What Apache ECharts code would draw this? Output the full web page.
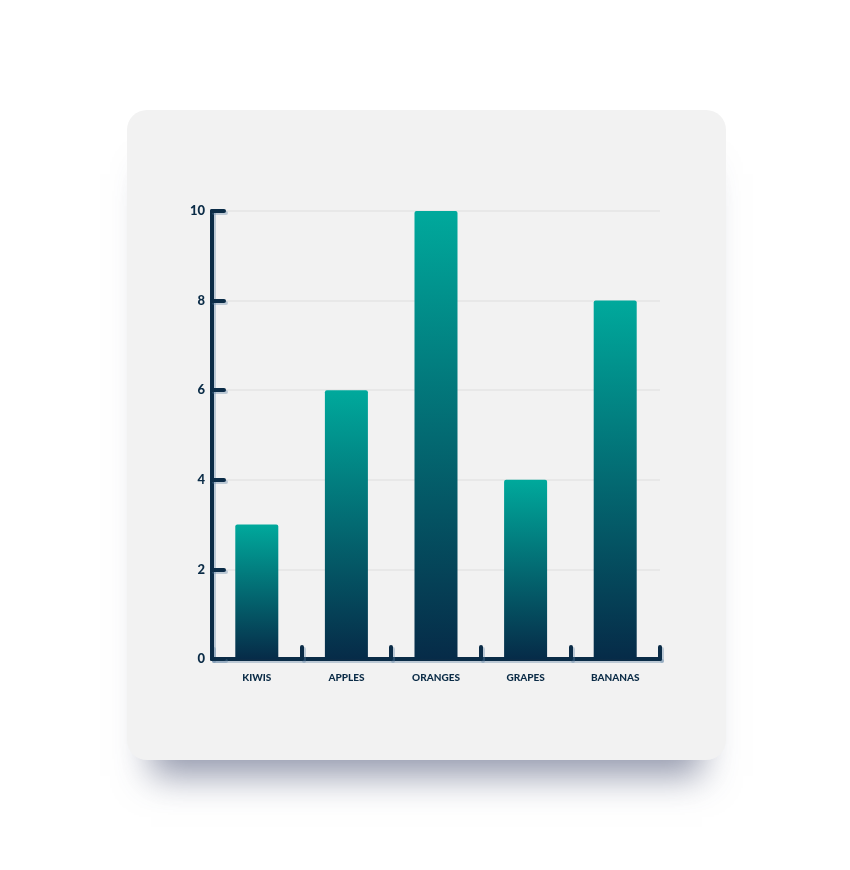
<!DOCTYPE html>
<html>
<head>
<meta charset="utf-8">
<style>
  html, body { margin: 0; padding: 0; background: #ffffff; }
  #card {
    position: absolute; left: 127px; top: 110px; width: 599px; height: 650px;
    background: #f2f2f2; border-radius: 20px;
    box-shadow: 0 40px 34px -24px rgba(60, 70, 105, 0.55);
  }
  #main { position: absolute; left: 0; top: 0; width: 850px; height: 870px; }
</style>
<script src="https://cdn.jsdelivr.net/npm/echarts@6/dist/echarts.min.js"></script>
</head>
<body>
<div id="card"></div>
<div id="main"></div>
<script>
  // fruit counts
  var fruits = ['KIWIS', 'APPLES', 'ORANGES', 'GRAPES', 'BANANAS'];
  var counts = [3, 6, 10, 4, 8];

  var navy = '#0b2c47';
  var axisShadow = {
    color: navy,
    width: 4,
    cap: 'round',
    shadowColor: 'rgba(90, 125, 160, 0.35)',
    shadowOffsetX: 2,
    shadowOffsetY: 2
  };

  var chart = echarts.init(document.getElementById('main'));
  var option = {
    animation: false,
    grid: { left: 212, top: 211, right: 190, bottom: 211, containLabel: false },
    xAxis: {
      type: 'category',
      data: fruits,
      axisLine: { lineStyle: axisShadow },
      axisTick: { show: true, inside: true, length: 12, interval: 0, lineStyle: axisShadow },
      axisLabel: {
        color: navy, fontFamily: 'Lato', fontWeight: 900, fontSize: 10, margin: 14
      },
      splitLine: { show: false }
    },
    yAxis: {
      type: 'value',
      min: 0, max: 10, interval: 2,
      axisLine: { show: true, lineStyle: axisShadow },
      axisTick: { show: true, inside: true, length: 12, lineStyle: axisShadow },
      axisLabel: {
        color: navy, fontFamily: 'Lato', fontWeight: 900, fontSize: 13, margin: 7
      },
      splitLine: { show: true, lineStyle: { color: '#e4e4e4', width: 1.5 } }
    },
    series: [{
      type: 'bar',
      data: counts,
      barWidth: '48%',
      itemStyle: {
        borderRadius: [2, 2, 0, 0],
        color: new echarts.graphic.LinearGradient(0, 0, 0, 1, [
          { offset: 0, color: '#00a99c' },
          { offset: 1, color: '#062b48' }
        ])
      }
    }]
  };
  chart.setOption(option);
</script>
</body>
</html>
